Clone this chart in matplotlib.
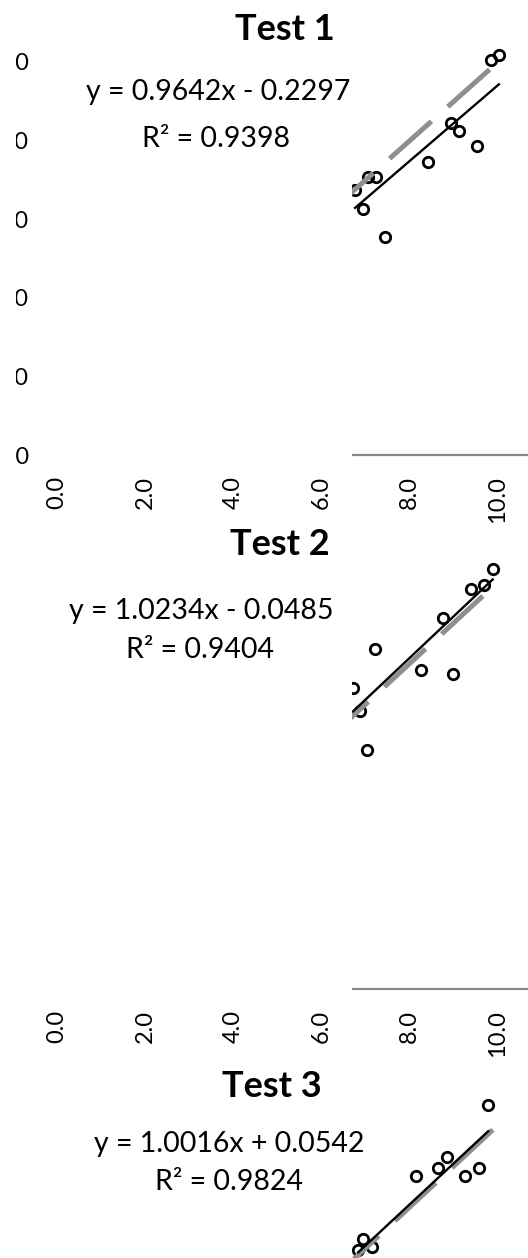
import matplotlib
matplotlib.use("Agg")
import matplotlib.pyplot as plt
from matplotlib.patches import Rectangle

plt.rcParams['font.family'] = ['Lato', 'DejaVu Sans']
plt.rcParams['lines.scale_dashes'] = False

# measured vs predicted, one pair of lists per test
test1_x = [10.02, 9.83, 8.93, 9.12, 9.53, 8.42, 7.05, 7.23, 6.93, 7.44, 6.76]
test1_y = [10.18, 10.05, 8.46, 8.25, 7.86, 7.46, 7.08, 7.07, 6.25, 5.55, 6.74]

test2_x = [9.88, 9.38, 9.68, 8.76, 7.21, 8.25, 8.97, 6.71, 6.87, 7.02]
test2_y = [10.32, 9.82, 9.93, 9.12, 8.35, 7.85, 7.74, 7.39, 6.84, 5.87]

test3_x = [9.78, 8.84, 8.65, 8.14, 9.58, 9.25, 6.95, 7.14, 6.83]
test3_y = [10.49, 9.23, 8.96, 8.76, 8.96, 8.76, 7.22, 7.02, 6.95]

titles = ['Test 1', 'Test 2', 'Test 3']
slopes = [0.9642, 1.0234, 1.0016]
intercepts = [-0.2297, -0.0485, 0.0542]
r2 = [0.9398, 0.9404, 0.9824]

ref_x = [0, 10]
ref_y = [0, 10]
ticks = [0, 2, 4, 6, 8, 10]

W, H = 528, 1258
fig = plt.figure(figsize=(W / 100, H / 100), dpi=100)

def fx(px):
    return px / W

def fy(py):
    return 1 - py / H

# pixel row of y=0 and pixels per unit for each chart
layout = [(455, 39.3), (989, 40.7), (1535, 41.0)]
x0_px, x_scale = 57, 44.1
series = [(test1_x, test1_y), (test2_x, test2_y), (test3_x, test3_y)]

# title / equation / r2 text anchors (center x, baseline y)
text_pos = [
    ((285, 40), (218, 100), (216, 147)),
    ((280, 555), (201, 619), (200, 658)),
    ((272, 1097), (229, 1152), (229, 1190)),
]

for i, (xs, ys) in enumerate(series):
    y0, s = layout[i]
    ax = fig.add_axes([fx(x0_px), (H - y0) / H, 12 * x_scale / W, 12 * s / H])
    ax.set_facecolor('none')
    ax.set_xlim(0, 12)
    ax.set_ylim(0, 12)
    ax.set_xticks(ticks)
    ax.set_yticks(ticks)
    ax.set_xticklabels(['%.1f' % t for t in ticks], rotation=90, fontsize=17)
    ax.set_yticklabels(['%.1f' % t for t in ticks], fontsize=17)
    ax.tick_params(length=0, axis='x', pad=15)
    ax.tick_params(length=0, axis='y', pad=20, labelleft=(i == 0))
    for side in ['top', 'right', 'left']:
        ax.spines[side].set_visible(False)
    ax.spines['bottom'].set_color('#8a8a8a')
    ax.spines['bottom'].set_linewidth(1.6)

    ax.plot(xs, ys, 'o', ms=7.5, mfc='none', mec='black', mew=2.0, zorder=2)
    ax.plot(ref_x, ref_y, color='#8f8f8f', lw=3.6,
            linestyle=(15.8, (40.3, 15.8)), zorder=3)
    lx = [min(xs), max(xs)]
    ax.plot(lx, [slopes[i] * v + intercepts[i] for v in lx],
            color='black', lw=1.7, zorder=4)

    # left part of the plot area is blanked out
    ax.add_patch(Rectangle((-0.1, -0.15), 6.79, 11.35, facecolor='white',
                           edgecolor='none', clip_on=False, zorder=5))

    (tx, ty), (ex, ey), (rx, ry) = text_pos[i]
    fig.text(fx(tx), fy(ty), titles[i], ha='center', va='baseline',
             fontsize=26, fontweight='bold')
    sign = '-' if intercepts[i] < 0 else '+'
    fig.text(fx(ex), fy(ey), 'y = %.4fx %s %.4f' % (slopes[i], sign, abs(intercepts[i])),
             ha='center', va='baseline', fontsize=20.5)
    fig.text(fx(rx), fy(ry), 'R\u00b2 = %.4f' % r2[i], ha='center',
             va='baseline', fontsize=20.5)

# y labels of the top chart are cut at the left edge
fig.add_artist(Rectangle((0, fy(480)), fx(15.5), 1 - fy(480), transform=fig.transFigure,
                         facecolor='white', edgecolor='none', zorder=1))

fig.savefig('out.png', dpi=100)
